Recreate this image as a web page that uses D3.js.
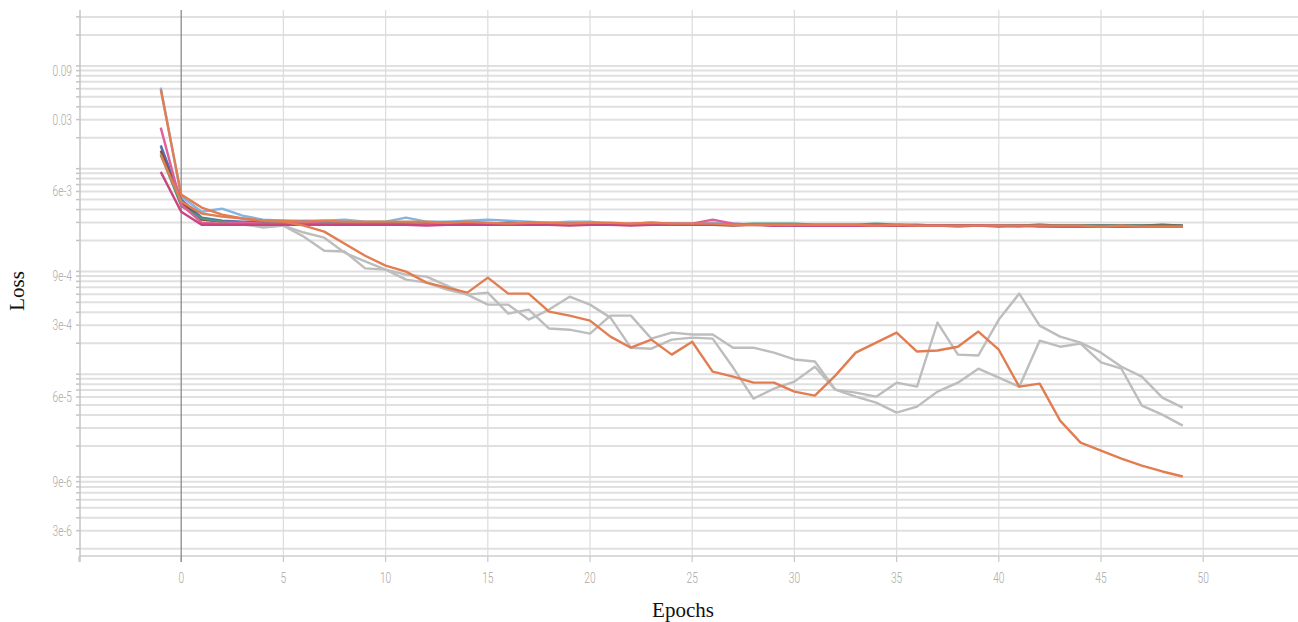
<!DOCTYPE html>
<html>
<head>
<meta charset="utf-8">
<script src="https://cdn.jsdelivr.net/npm/d3@7"></script>
<style>
  body { margin: 0; background: #fff; }
</style>
</head>
<body>
<div id="caja"></div>
<script>
// datos: perdida por epoca (epoca -1 = antes de entrenar)
var epochs = d3.range(-1, 50);

var orangeDrop = [
  0.0588, 5.59e-3, 4.18e-3, 3.57e-3, 3.27e-3, 3.12e-3, 3.05e-3, 2.79e-3, 2.44e-3, 1.86e-3,
  1.42e-3, 1.14e-3, 9.96e-4, 7.78e-4, 6.96e-4, 6.22e-4, 8.70e-4, 6.08e-4, 6.08e-4, 4.06e-4,
  3.71e-4, 3.32e-4, 2.32e-4, 1.81e-4, 2.17e-4, 1.55e-4, 2.07e-4, 1.06e-4, 9.47e-5, 8.27e-5,
  8.27e-5, 6.76e-5, 6.18e-5, 9.68e-5, 1.62e-4, 2.03e-4, 2.54e-4, 1.66e-4, 1.70e-4, 1.85e-4,
  2.60e-4, 1.73e-4, 7.56e-5, 8.09e-5, 3.53e-5, 2.16e-5, 1.80e-5, 1.51e-5, 1.29e-5, 1.13e-5,
  1.01e-5];

var grayA = [
  0.0164, 5.0e-3, 3.34e-3, 3.05e-3, 2.92e-3, 2.67e-3, 2.79e-3, 2.39e-3, 2.13e-3, 1.52e-3,
  1.25e-3, 1.04e-3, 9.31e-4, 8.90e-4, 7.27e-4, 5.94e-4, 6.22e-4, 3.88e-4, 4.25e-4, 2.78e-4,
  2.71e-4, 2.48e-4, 3.71e-4, 3.71e-4, 2.22e-4, 2.54e-4, 2.43e-4, 2.43e-4, 1.81e-4, 1.81e-4,
  1.62e-4, 1.39e-4, 1.33e-4, 7.07e-5, 6.61e-5, 6.04e-5, 8.27e-5, 7.56e-5, 3.18e-4, 1.55e-4,
  1.52e-4, 3.40e-4, 6.08e-4, 2.97e-4, 2.32e-4, 2.03e-4, 1.62e-4, 1.18e-4, 9.47e-5, 5.91e-5,
  4.73e-5];

var grayB = [
  0.0147, 4.67e-3, 3.19e-3, 3.05e-3, 2.85e-3, 2.73e-3, 2.79e-3, 2.18e-3, 1.59e-3, 1.56e-3,
  1.07e-3, 1.04e-3, 8.32e-4, 7.78e-4, 6.65e-4, 5.94e-4, 4.75e-4, 4.75e-4, 3.40e-4, 4.25e-4,
  5.68e-4, 4.75e-4, 3.55e-4, 1.81e-4, 1.77e-4, 2.17e-4, 2.27e-4, 2.22e-4, 1.16e-4, 5.78e-5,
  7.23e-5, 8.46e-5, 1.18e-4, 7.07e-5, 6.04e-5, 5.28e-5, 4.22e-5, 4.83e-5, 6.76e-5, 8.27e-5,
  1.13e-4, 9.26e-5, 7.56e-5, 2.12e-4, 1.85e-4, 1.98e-4, 1.30e-4, 1.13e-4, 4.94e-5, 4.04e-5,
  3.16e-5];

var lightBlue = [
  0.0615, 5.36e-3, 3.81e-3, 4.08e-3, 3.49e-3, 3.19e-3, 3.12e-3, 3.12e-3, 3.12e-3, 3.19e-3,
  3.05e-3, 3.05e-3, 3.34e-3, 3.05e-3, 3.05e-3, 3.12e-3, 3.19e-3, 3.12e-3, 3.05e-3, 2.98e-3,
  3.05e-3, 3.05e-3, 2.92e-3, 2.85e-3, 2.92e-3, 2.92e-3, 2.92e-3, 2.98e-3, 2.92e-3, 2.85e-3,
  2.85e-3, 2.85e-3, 2.85e-3, 2.85e-3, 2.85e-3, 2.79e-3, 2.85e-3, 2.79e-3, 2.79e-3, 2.79e-3,
  2.79e-3, 2.79e-3, 2.79e-3, 2.79e-3, 2.79e-3, 2.79e-3, 2.79e-3, 2.79e-3, 2.79e-3, 2.79e-3,
  2.79e-3];

var pink = [
  0.0251, 4.47e-3, 2.98e-3, 2.92e-3, 2.98e-3, 2.92e-3, 2.92e-3, 2.98e-3, 2.92e-3, 2.92e-3,
  2.92e-3, 2.85e-3, 2.92e-3, 2.85e-3, 2.92e-3, 2.92e-3, 2.85e-3, 2.92e-3, 2.92e-3, 2.85e-3,
  2.92e-3, 2.92e-3, 2.85e-3, 2.92e-3, 2.98e-3, 2.92e-3, 2.92e-3, 3.19e-3, 2.92e-3, 2.85e-3,
  2.85e-3, 2.85e-3, 2.79e-3, 2.79e-3, 2.79e-3, 2.79e-3, 2.79e-3, 2.79e-3, 2.79e-3, 2.73e-3,
  2.79e-3, 2.79e-3, 2.73e-3, 2.79e-3, 2.73e-3, 2.73e-3, 2.73e-3, 2.73e-3, 2.73e-3, 2.73e-3,
  2.73e-3];

var blue = [
  0.0168, 5.0e-3, 3.34e-3, 3.12e-3, 3.05e-3, 3.05e-3, 2.98e-3, 3.05e-3, 2.98e-3, 2.98e-3,
  2.98e-3, 2.92e-3, 2.98e-3, 2.92e-3, 2.98e-3, 2.98e-3, 2.92e-3, 2.98e-3, 2.92e-3, 2.92e-3,
  2.92e-3, 2.92e-3, 2.85e-3, 2.85e-3, 2.92e-3, 2.85e-3, 2.85e-3, 2.85e-3, 2.85e-3, 2.85e-3,
  2.85e-3, 2.79e-3, 2.79e-3, 2.79e-3, 2.79e-3, 2.79e-3, 2.79e-3, 2.79e-3, 2.79e-3, 2.79e-3,
  2.79e-3, 2.79e-3, 2.79e-3, 2.79e-3, 2.79e-3, 2.79e-3, 2.79e-3, 2.79e-3, 2.79e-3, 2.79e-3,
  2.79e-3];

var brown = [
  0.0150, 4.67e-3, 3.19e-3, 3.05e-3, 2.98e-3, 2.98e-3, 2.92e-3, 2.98e-3, 2.92e-3, 2.98e-3,
  2.92e-3, 2.92e-3, 2.92e-3, 2.92e-3, 2.85e-3, 2.92e-3, 2.92e-3, 2.85e-3, 2.92e-3, 2.92e-3,
  2.85e-3, 2.92e-3, 2.85e-3, 2.85e-3, 2.85e-3, 2.85e-3, 2.85e-3, 2.85e-3, 2.79e-3, 2.85e-3,
  2.79e-3, 2.85e-3, 2.79e-3, 2.79e-3, 2.79e-3, 2.79e-3, 2.79e-3, 2.79e-3, 2.79e-3, 2.79e-3,
  2.79e-3, 2.79e-3, 2.79e-3, 2.85e-3, 2.79e-3, 2.79e-3, 2.79e-3, 2.79e-3, 2.79e-3, 2.85e-3,
  2.79e-3];

var green = [
  0.0138, 4.34e-3, 3.27e-3, 3.05e-3, 2.98e-3, 2.92e-3, 2.98e-3, 2.92e-3, 3.05e-3, 2.98e-3,
  2.92e-3, 2.92e-3, 2.98e-3, 2.92e-3, 2.92e-3, 2.85e-3, 2.92e-3, 2.92e-3, 2.98e-3, 2.92e-3,
  2.92e-3, 2.92e-3, 2.92e-3, 2.85e-3, 2.85e-3, 2.92e-3, 2.85e-3, 2.85e-3, 2.85e-3, 2.92e-3,
  2.92e-3, 2.92e-3, 2.85e-3, 2.85e-3, 2.85e-3, 2.92e-3, 2.85e-3, 2.85e-3, 2.79e-3, 2.79e-3,
  2.79e-3, 2.79e-3, 2.79e-3, 2.79e-3, 2.79e-3, 2.79e-3, 2.79e-3, 2.79e-3, 2.79e-3, 2.79e-3,
  2.79e-3];

var magenta = [
  9.3e-3, 3.81e-3, 2.85e-3, 2.85e-3, 2.85e-3, 2.85e-3, 2.85e-3, 2.85e-3, 2.85e-3, 2.85e-3,
  2.85e-3, 2.85e-3, 2.85e-3, 2.79e-3, 2.85e-3, 2.85e-3, 2.85e-3, 2.85e-3, 2.85e-3, 2.85e-3,
  2.79e-3, 2.85e-3, 2.85e-3, 2.79e-3, 2.85e-3, 2.85e-3, 2.85e-3, 2.85e-3, 2.85e-3, 2.85e-3,
  2.79e-3, 2.79e-3, 2.79e-3, 2.79e-3, 2.79e-3, 2.79e-3, 2.79e-3, 2.79e-3, 2.79e-3, 2.79e-3,
  2.79e-3, 2.73e-3, 2.79e-3, 2.73e-3, 2.73e-3, 2.73e-3, 2.73e-3, 2.73e-3, 2.73e-3, 2.73e-3,
  2.73e-3];

var orangeFlat = [
  0.0135, 4.8e-3, 3.66e-3, 3.41e-3, 3.27e-3, 3.12e-3, 3.12e-3, 3.05e-3, 3.12e-3, 3.05e-3,
  3.05e-3, 3.05e-3, 3.05e-3, 3.05e-3, 2.98e-3, 3.05e-3, 2.98e-3, 2.92e-3, 2.98e-3, 2.98e-3,
  2.92e-3, 2.98e-3, 2.98e-3, 2.92e-3, 2.98e-3, 2.92e-3, 2.92e-3, 2.92e-3, 2.85e-3, 2.85e-3,
  2.85e-3, 2.85e-3, 2.85e-3, 2.85e-3, 2.85e-3, 2.79e-3, 2.85e-3, 2.79e-3, 2.79e-3, 2.79e-3,
  2.79e-3, 2.79e-3, 2.79e-3, 2.79e-3, 2.79e-3, 2.79e-3, 2.73e-3, 2.79e-3, 2.73e-3, 2.73e-3,
  2.73e-3];

// etiquetas de ejes
var yLabelVals = [0.09, 0.03, 6e-3, 9e-4, 3e-4, 6e-5, 9e-6, 3e-6];
var yLabels = ["0.09", "0.03", "6e-3", "9e-4", "3e-4", "6e-5", "9e-6", "3e-6"];
var xTicks = [-5, 0, 5, 10, 15, 20, 25, 30, 35, 40, 45, 50];

// series en orden de dibujo (grises abajo)
var series = [
  {vals: grayA, color: "#bdbdbd"},
  {vals: grayB, color: "#bdbdbd"},
  {vals: lightBlue, color: "#82b4e4"},
  {vals: blue, color: "#4c74b6"},
  {vals: brown, color: "#9a4538"},
  {vals: green, color: "#4f9878"},
  {vals: pink, color: "#e0619a"},
  {vals: magenta, color: "#c8457f"},
  {vals: orangeDrop, color: "#e27d52"},
  {vals: orangeFlat, color: "#e27d52"}
];

var w = 1298, h = 622;
var yTop = 10, yBot = 556, xLeft = 80;

var chart = d3.select('#caja')
  .append('svg')
  .attr('width', w)
  .attr('height', h)
  .style("background", "#fff");

var x = d3.scaleLinear().domain([-5, 55]).range([79, 79 + 60 * 20.44]);
var y = d3.scaleLog().domain([1.7e-6, 0.35]).range([yBot, yTop]);

// lineas horizontales de grilla (todas las menores)
var gridVals = y.ticks();
chart.append("g")
  .selectAll("line")
  .data(gridVals)
  .enter().append("line")
    .attr("x1", xLeft).attr("x2", w)
    .attr("y1", function(d) { return y(d); })
    .attr("y2", function(d) { return y(d); })
    .style("stroke", "#e0e0e0")
    .style("stroke-width", 2);

// marcas pequeñas del eje y
chart.append("g")
  .selectAll("line")
  .data(gridVals)
  .enter().append("line")
    .attr("x1", xLeft - 4).attr("x2", xLeft)
    .attr("y1", function(d) { return y(d); })
    .attr("y2", function(d) { return y(d); })
    .style("stroke", "#c4c4c4")
    .style("stroke-width", 1.5);

// lineas verticales de grilla
chart.append("g")
  .selectAll("line")
  .data(xTicks.filter(function(d) { return d > 0; }))
  .enter().append("line")
    .attr("x1", function(d) { return x(d); })
    .attr("x2", function(d) { return x(d); })
    .attr("y1", yTop).attr("y2", yBot)
    .style("stroke", "#dcdcdc")
    .style("stroke-width", 1.2);

// linea base del eje x
chart.append("line")
  .attr("x1", xLeft).attr("x2", w)
  .attr("y1", yBot).attr("y2", yBot)
  .style("stroke", "#dadada")
  .style("stroke-width", 2);

// marcas del eje x
chart.append("g")
  .selectAll("line")
  .data(xTicks)
  .enter().append("line")
    .attr("x1", function(d) { return x(d); })
    .attr("x2", function(d) { return x(d); })
    .attr("y1", yBot).attr("y2", yBot + 6)
    .style("stroke", "#c8c8c8")
    .style("stroke-width", 1.2);

// eje y
chart.append("line")
  .attr("x1", xLeft).attr("x2", xLeft)
  .attr("y1", yTop).attr("y2", yBot + 6)
  .style("stroke", "#c4c4c4")
  .style("stroke-width", 1.5);

// linea en epoca 0
chart.append("line")
  .attr("x1", x(0)).attr("x2", x(0))
  .attr("y1", yTop).attr("y2", yBot + 6)
  .style("stroke", "#8c8c8c")
  .style("stroke-width", 1.3);

// textos de ticks
chart.append("g")
  .selectAll("text")
  .data(yLabelVals)
  .enter().append("text")
    .attr("transform", function(d) { return "translate(72," + (y(d) + 5) + ") scale(0.68,1)"; })
    .attr("text-anchor", "end")
    .text(function(d, i) { return yLabels[i]; })
    .style("font-family", "Roboto, sans-serif")
    .style("font-weight", 300)
    .style("font-size", "15px")
    .style("fill", "#a8a8a8");

chart.append("g")
  .selectAll("text")
  .data(xTicks.filter(function(d) { return d >= 0; }))
  .enter().append("text")
    .attr("transform", function(d) { return "translate(" + x(d) + ",583) scale(0.68,1)"; })
    .attr("text-anchor", "middle")
    .text(function(d) { return d; })
    .style("font-family", "Roboto, sans-serif")
    .style("font-weight", 300)
    .style("font-size", "15px")
    .style("fill", "#a8a8a8");

// lineas de datos
var line = d3.line()
  .x(function(d, i) { return x(epochs[i]); })
  .y(function(d) { return y(d); });

chart.append("g")
  .selectAll("path")
  .data(series)
  .enter().append("path")
    .attr("d", function(s) { return line(s.vals); })
    .style("fill", "none")
    .style("stroke", function(s) { return s.color; })
    .style("stroke-width", 2.4)
    .style("stroke-linejoin", "round");

// titulos
chart.append("text")
  .attr("x", 683).attr("y", 617)
  .attr("text-anchor", "middle")
  .text("Epochs")
  .style("font-family", "'Liberation Serif', serif")
  .style("font-size", "21px")
  .style("fill", "#111");

chart.append("text")
  .attr("transform", "translate(24,291) rotate(-90)")
  .attr("text-anchor", "middle")
  .text("Loss")
  .style("font-family", "'Liberation Serif', serif")
  .style("font-size", "21px")
  .style("fill", "#111");
</script>
</body>
</html>
